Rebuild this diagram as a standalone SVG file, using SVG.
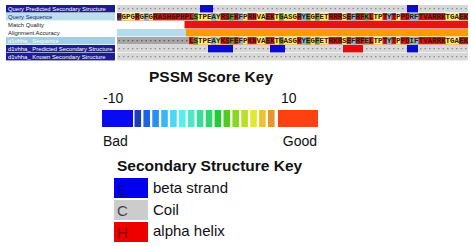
<svg xmlns="http://www.w3.org/2000/svg" width="471" height="246" viewBox="0 0 471 246">
<style>
.lab{font-family:"Liberation Sans",Arial,sans-serif;font-size:5.9px}
.w{fill:#ffffff}.dk{fill:#222222}.nv{fill:#1a2a6a}
.navy{fill:#1c1c94}
.seq{font-family:"Liberation Mono",monospace;font-weight:bold;font-size:7.5px;fill:#3a1206}
.r{fill:#e0150e}.y{fill:#f7f25c}.g{fill:#36b436}.c{fill:#6cc4d4}.l{fill:#c8ec62}.p{fill:#5a2a9a}
.ssg{fill:#d8d8d8}.gap{fill:#a6a6a6}
.dots{stroke:#8c8c8c;stroke-width:1.3;stroke-dasharray:1.4 3.1}
.gdots{stroke:#5a5a5a;stroke-width:1.3;stroke-dasharray:1.4 3.1}
.sb{fill:#0a0ad0}.sr{fill:#e60a0a}
.ttl{font-family:"Liberation Sans",Arial,sans-serif;font-weight:bold;font-size:15.5px;fill:#111}
.txt{font-family:"Liberation Sans",Arial,sans-serif;font-size:14px;fill:#111}
.key{font-family:"Liberation Sans",Arial,sans-serif;font-size:15px}
</style>
<rect width="471" height="246" fill="#ffffff"/>

<g id="track-labels">
  <rect x="6" y="5" width="109" height="7.4" class="navy"/>
  <text x="8" y="10.6" class="lab w">Query Predicted Secondary Structure</text>
  <rect x="6" y="13" width="109" height="7.4" fill="#bcdff0"/>
  <text x="8" y="18.6" class="lab nv">Query Sequence</text>
  <text x="8" y="26.6" class="lab dk">Match Quality</text>
  <text x="8" y="34.6" class="lab dk">Alignment Accuracy</text>
  <rect x="6" y="37" width="109" height="7.4" fill="#a2cde6"/>
  <text x="8" y="42.6" class="lab w">d1vhha_ Sequence</text>
  <rect x="6" y="45" width="109" height="7.4" class="navy"/>
  <text x="8" y="50.6" class="lab w">d1vhha_ Predicted Secondary Structure</text>
  <rect x="6" y="53" width="109" height="7.4" class="navy"/>
  <text x="8" y="58.6" class="lab w">d1vhha_ Known Secondary Structure</text>
</g>

<g id="query-ss">
  <rect x="117" y="5" width="351" height="7.4" class="ssg"/>
  <line x1="118.55" y1="8.7" x2="468" y2="8.7" class="dots"/>
  <rect x="200" y="5" width="13" height="7.4" class="sb"/>
  <rect x="407" y="5" width="11" height="7.4" class="sb"/>
</g>

<g id="query-seq">
  <rect x="117" y="13" width="351" height="7.4" class="r"/>
  <rect x="117" y="13" width="4.5" height="7.4" class="p"/>
  <rect x="121.5" y="13" width="13.5" height="7.4" class="y"/>
  <rect x="139.5" y="13" width="4.5" height="7.4" class="y"/>
  <rect x="144" y="13" width="4.5" height="7.4" class="c"/>
  <rect x="148.5" y="13" width="4.5" height="7.4" class="y"/>
  <rect x="193.5" y="13" width="4.5" height="7.4" class="g"/>
  <rect x="198" y="13" width="13.5" height="7.4" class="y"/>
  <rect x="211.5" y="13" width="4.5" height="7.4" class="c"/>
  <rect x="216" y="13" width="4.5" height="7.4" class="l"/>
  <rect x="229.5" y="13" width="4.5" height="7.4" class="g"/>
  <rect x="238.5" y="13" width="4.5" height="7.4" class="c"/>
  <rect x="243" y="13" width="4.5" height="7.4" class="y"/>
  <rect x="256.5" y="13" width="9" height="7.4" class="y"/>
  <rect x="274.5" y="13" width="4.5" height="7.4" class="y"/>
  <rect x="279" y="13" width="4.5" height="7.4" class="g"/>
  <rect x="283.5" y="13" width="13.5" height="7.4" class="y"/>
  <rect x="301.5" y="13" width="4.5" height="7.4" class="c"/>
  <rect x="306" y="13" width="4.5" height="7.4" class="g"/>
  <rect x="310.5" y="13" width="4.5" height="7.4" class="y"/>
  <rect x="315" y="13" width="4.5" height="7.4" class="g"/>
  <rect x="319.5" y="13" width="9" height="7.4" class="y"/>
  <rect x="342" y="13" width="4.5" height="7.4" class="y"/>
  <rect x="351" y="13" width="4.5" height="7.4" class="c"/>
  <rect x="364.5" y="13" width="4.5" height="7.4" class="g"/>
  <rect x="373.5" y="13" width="9" height="7.4" class="y"/>
  <rect x="387" y="13" width="4.5" height="7.4" class="c"/>
  <rect x="396" y="13" width="4.5" height="7.4" class="y"/>
  <rect x="409.5" y="13" width="9" height="7.4" class="c"/>
  <rect x="445.5" y="13" width="13.5" height="7.4" class="y"/>
  <text x="117" y="19.2" class="seq">MGPGRGFGRASHGPHPLSTPEAYRSFKFPRNVAEKTGASGRYEGFETRRRSEFRFKLTPTYTPPDRFTVARRKTGAEK</text>
</g>

<g id="match-quality">
  <rect x="184.5" y="21" width="283.5" height="7.4" fill="#e8150c"/>
</g>

<g id="alignment-accuracy">
  <rect x="117" y="29" width="69" height="7.4" fill="#b4dcec"/>
  <rect x="186" y="29" width="282" height="7.4" fill="#ff9a00"/>
</g>

<g id="template-seq">
  <rect x="117" y="37" width="72" height="7.4" class="gap"/>
  <line x1="118.55" y1="40.7" x2="189" y2="40.7" class="gdots"/>
  <rect x="189" y="37" width="279" height="7.4" class="r"/>
  <rect x="193.5" y="37" width="4.5" height="7.4" class="g"/>
  <rect x="198" y="37" width="13.5" height="7.4" class="y"/>
  <rect x="211.5" y="37" width="4.5" height="7.4" class="c"/>
  <rect x="216" y="37" width="4.5" height="7.4" class="l"/>
  <rect x="229.5" y="37" width="4.5" height="7.4" class="g"/>
  <rect x="238.5" y="37" width="4.5" height="7.4" class="c"/>
  <rect x="243" y="37" width="4.5" height="7.4" class="y"/>
  <rect x="256.5" y="37" width="9" height="7.4" class="y"/>
  <rect x="274.5" y="37" width="4.5" height="7.4" class="y"/>
  <rect x="279" y="37" width="4.5" height="7.4" class="g"/>
  <rect x="283.5" y="37" width="13.5" height="7.4" class="y"/>
  <rect x="301.5" y="37" width="4.5" height="7.4" class="c"/>
  <rect x="306" y="37" width="4.5" height="7.4" class="g"/>
  <rect x="310.5" y="37" width="4.5" height="7.4" class="y"/>
  <rect x="315" y="37" width="4.5" height="7.4" class="g"/>
  <rect x="319.5" y="37" width="9" height="7.4" class="y"/>
  <rect x="342" y="37" width="4.5" height="7.4" class="y"/>
  <rect x="351" y="37" width="4.5" height="7.4" class="c"/>
  <rect x="364.5" y="37" width="4.5" height="7.4" class="g"/>
  <rect x="373.5" y="37" width="9" height="7.4" class="y"/>
  <rect x="387" y="37" width="4.5" height="7.4" class="c"/>
  <rect x="396" y="37" width="4.5" height="7.4" class="y"/>
  <rect x="409.5" y="37" width="9" height="7.4" class="c"/>
  <rect x="445.5" y="37" width="13.5" height="7.4" class="y"/>
  <text x="189" y="43.2" class="seq">LSTPEAYKSFEFPKNVAEKTGASGKYEGFETRKRSEFRFELTPTYTPPDIFTVARRKTGAEK</text>
</g>

<g id="template-pred-ss">
  <rect x="117" y="45" width="351" height="7.4" class="ssg"/>
  <line x1="118.55" y1="48.7" x2="468" y2="48.7" class="dots"/>
  <rect x="208" y="45" width="25" height="7.4" class="sb"/>
  <rect x="270" y="45" width="15" height="7.4" class="sb"/>
  <rect x="343" y="45" width="20" height="7.4" class="sr"/>
  <rect x="407" y="45" width="11" height="7.4" class="sb"/>
</g>

<g id="template-known-ss">
  <rect x="117" y="53" width="351" height="7.4" class="ssg"/>
  <line x1="118.55" y1="56.7" x2="468" y2="56.7" class="dots"/>
</g>

<g id="pssm-key">
  <text x="211" y="82" text-anchor="middle" class="ttl">PSSM Score Key</text>
  <text x="103" y="103" class="txt">-10</text>
  <text x="281" y="103" class="txt">10</text>
  <rect x="102" y="110" width="31" height="17" fill="#0a0af0"/>
  <rect x="134.5" y="110" width="6.6" height="17" fill="#1f3bb5"/>
  <rect x="143.4" y="110" width="6.6" height="17" fill="#1d62e6"/>
  <rect x="152.3" y="110" width="6.6" height="17" fill="#2a8ef2"/>
  <rect x="161.2" y="110" width="6.6" height="17" fill="#3ab6f7"/>
  <rect x="170.1" y="110" width="6.6" height="17" fill="#4ad8f5"/>
  <rect x="179" y="110" width="6.6" height="17" fill="#55f0ee"/>
  <rect x="187.9" y="110" width="6.6" height="17" fill="#4de8c8"/>
  <rect x="196.8" y="110" width="6.6" height="17" fill="#3cdd9a"/>
  <rect x="205.7" y="110" width="6.6" height="17" fill="#2ed66c"/>
  <rect x="214.6" y="110" width="6.6" height="17" fill="#22cc33"/>
  <rect x="223.5" y="110" width="6.6" height="17" fill="#4fcc22"/>
  <rect x="232.4" y="110" width="6.6" height="17" fill="#88d822"/>
  <rect x="241.3" y="110" width="6.6" height="17" fill="#b8e026"/>
  <rect x="250.2" y="110" width="6.6" height="17" fill="#e0e830"/>
  <rect x="259.1" y="110" width="6.6" height="17" fill="#ecc42a"/>
  <rect x="268" y="110" width="6.6" height="17" fill="#e8962a"/>
  <rect x="278" y="110" width="40" height="17" fill="#ff4010"/>
  <text x="103" y="146" class="txt">Bad</text>
  <text x="317" y="146" text-anchor="end" class="txt">Good</text>
</g>

<g id="ss-key">
  <text x="117" y="171" class="ttl">Secondary Structure Key</text>
  <rect x="114" y="178" width="34" height="20" fill="#0000ee"/>
  <text x="117" y="195" class="key" fill="#00009a">E</text>
  <text x="153" y="193" class="key" fill="#111">beta strand</text>
  <rect x="114" y="200" width="34" height="20" fill="#cccccc"/>
  <text x="117" y="216" class="key" fill="#444444">C</text>
  <text x="153" y="215" class="key" fill="#111">Coil</text>
  <rect x="114" y="222" width="34" height="20" fill="#ee0000"/>
  <text x="117" y="238" class="key" fill="#880000">H</text>
  <text x="153" y="236" class="key" fill="#111">alpha helix</text>
</g>
</svg>
